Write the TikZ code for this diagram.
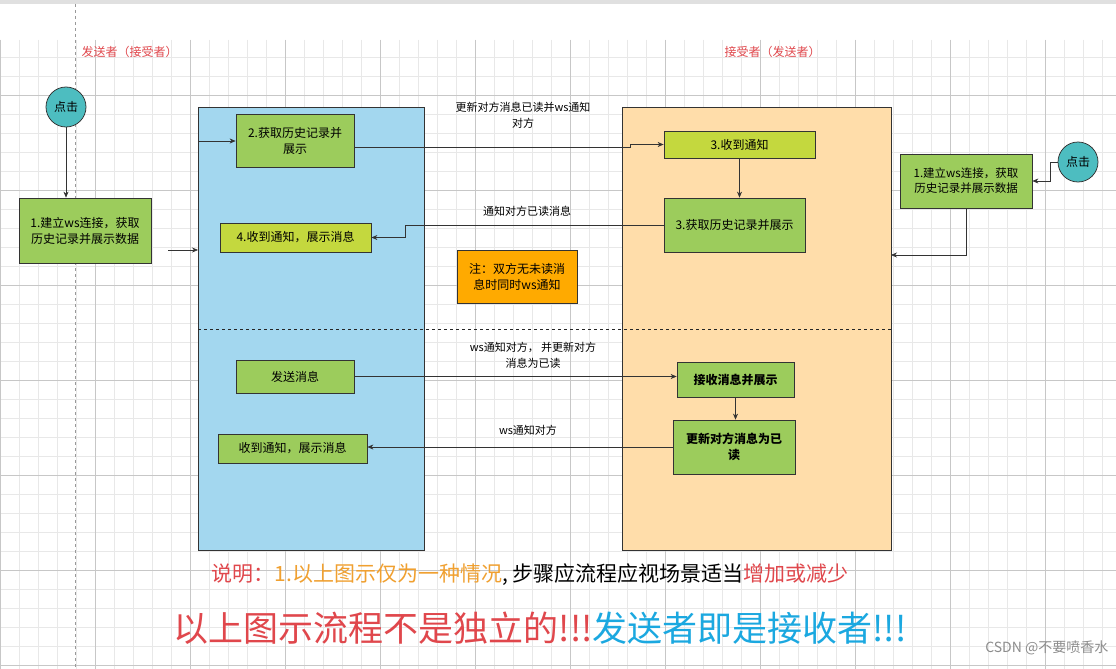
\documentclass[tikz,border=0pt]{standalone}
\usepackage{fontspec}
\setmainfont{Noto Sans CJK SC}
\usetikzlibrary{arrows.meta}
\definecolor{boxgreen}{HTML}{9CCC5C}
\definecolor{boxlime}{HTML}{C4D83E}
\definecolor{panelblue}{HTML}{A3D7EF}
\definecolor{panelorange}{HTML}{FFDDAA}
\definecolor{clickteal}{HTML}{4DBDC0}
\definecolor{noteorange}{HTML}{FFAA00}
\definecolor{labelred}{HTML}{E0474C}
\definecolor{txtorange}{HTML}{F0A030}
\definecolor{txtblue}{HTML}{1BA8E0}
\tikzset{every picture/.style={line width=0.75pt},
  stepbox/.style={draw=black!80,fill=boxgreen,align=center,font=\fontsize{12}{16}\selectfont,inner sep=2pt},
  click/.style={circle,draw=black!80,fill=clickteal,minimum size=40pt,inner sep=0pt,font=\fontsize{12}{14}\selectfont},
  flow/.style={draw=black!80,line width=0.6pt,-{Stealth[length=6pt,width=5pt]}},
  msg/.style={align=center,font=\fontsize{11}{16}\selectfont}}

\begin{document}
\begin{tikzpicture}[x=1pt,y=1pt,yscale=-1,xscale=1]
	\useasboundingbox (0,0) rectangle (1116,669);
	%background and grid
	\fill[white] (0,0) rectangle (1116,669);
	\fill[black!12] (0,0) rectangle (1116,4);
	\draw[black!9,line width=0.5pt] (0,40) grid[step=19] (1116,669);
	\draw[black!22,line width=0.5pt] (-9,40) grid[step=95] (1116,669);
	\draw[black!40,dashed,line width=0.5pt] (75,4) -- (75,669);

	%lanes
	\node[anchor=west,text=labelred,font=\fontsize{12}{14}\selectfont] (lsend) at (78,52) {发送者（接受者）};
	\node[anchor=west,text=labelred,font=\fontsize{12}{14}\selectfont] (lrecv) at (721,52) {接受者（发送者）};

	%panels
	\draw[black!80,fill=panelblue] (198,107) rectangle (424,550);
	\draw[black!80,fill=panelorange] (622,107) rectangle (891,550);
	\draw[black!85,dashed,line width=0.9pt] (198,329) -- (891,329);

	%left side
	\node[click] (clickL) at (66,107) {点击};
	\node[stepbox,minimum width=132pt,minimum height=65pt] (connL) at (85,230.5) {1.建立ws连接，获取\\历史记录并展示数据};
	\node[stepbox,minimum width=118pt,minimum height=53pt] (hist) at (295,140.5) {2.获取历史记录并\\展示};
	\node[stepbox,fill=boxlime,minimum width=151pt,minimum height=29pt] (recvL) at (295.5,237.5) {4.收到通知，展示消息};
	\node[stepbox,minimum width=118pt,minimum height=33pt] (send) at (295,376.5) {发送消息};
	\node[stepbox,minimum width=149pt,minimum height=29pt] (gotL) at (292.5,448.5) {收到通知，展示消息};

	%right side
	\node[stepbox,fill=boxlime,minimum width=151pt,minimum height=27pt] (notif) at (739.5,144.5) {3.收到通知};
	\node[stepbox,minimum width=141pt,minimum height=54pt] (histR) at (734.5,225) {3.获取历史记录并展示};
	\node[stepbox,minimum width=132pt,minimum height=54pt,font=\fontsize{11.5}{15}\selectfont] (connR) at (966,181) {1.建立ws连接，获取\\历史记录并展示数据};
	\node[click] (clickR) at (1078,162) {点击};
	\node[stepbox,minimum width=117pt,minimum height=35pt,font=\bfseries\fontsize{12}{16}\selectfont] (show) at (735.5,379.5) {接收消息并展示};
	\node[stepbox,minimum width=122pt,minimum height=54pt,font=\bfseries\fontsize{12}{16}\selectfont] (mark) at (734,447) {更新对方消息为已\\读};

	%note
	\node[draw=black!80,fill=noteorange,align=center,minimum width=120pt,minimum height=53pt,font=\fontsize{12}{16}\selectfont] (note) at (517,276.5) {注：双方无未读消\\息时同时ws通知};

	%connector labels
	\node[msg] (m1) at (523,115) {更新对方消息已读并ws通知\\对方};
	\node[msg] (m2) at (527,211) {通知对方已读消息};
	\node[msg] (m3) at (533,355) {ws通知对方， 并更新对方\\消息为已读};
	\node[msg] (m4) at (528,430) {ws通知对方};

	%connectors
	\coordinate (inL) at (168,250);
	\coordinate (blueL) at (198,250);
	\coordinate (blueH) at (198,141);
	\coordinate (bend) at (630,147);
	\coordinate (orR) at (891,255);
	\draw[flow] (clickL.south) -- (clickL.south |- connL.north);
	\draw[flow] (inL) -- (blueL);
	\draw[flow] (blueH) -- (blueH -| hist.west);
	\draw[flow] (hist.east |- bend) -- (bend) -- (bend |- notif.west) -- (notif.west);
	\draw[flow] (notif.south) -- (notif.south |- histR.north);
	\draw[flow] (histR.west) -- (405,225) -- (405,237.5) -- (recvL.east);
	\draw[flow] (clickR.west) -- (1050,162) -- (1050,181) -- (connR.east);
	\draw[flow] (connR.south) |- (orR);
	\draw[flow] (send.east) -- (send.east -| show.west);
	\draw[flow] (show.south) -- (show.south |- mark.north);
	\draw[flow] (mark.west) -- (mark.west -| gotL.east);

	%notes at bottom
	\node[anchor=west,font=\fontsize{21}{24}\selectfont] (expl) at (208,575) {\textcolor{labelred}{说明：}\textcolor{txtorange}{1.以上图示仅为一种情况}, 步骤应流程应视场景适当\textcolor{labelred}{增加或减少}};
	\node[anchor=west,font=\fontsize{35}{40}\selectfont] (warn) at (170,628) {\textcolor{labelred}{以上图示流程不是独立的!!!}\textcolor{txtblue}{发送者即是接收者!!!}};
	\node[anchor=east,text=black!45,font=\fontsize{14}{16}\selectfont] (mark2) at (1112,648) {CSDN @不要喷香水};
\end{tikzpicture}
\end{document}
